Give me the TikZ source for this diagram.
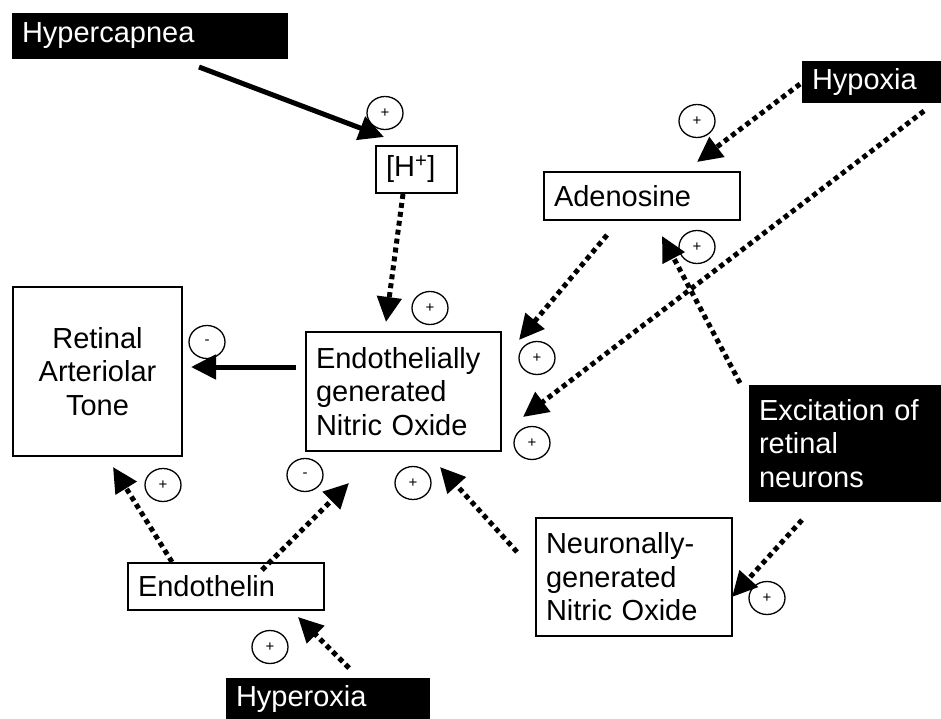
\documentclass[tikz,border=0pt]{standalone}
\usepackage{fontspec}
\setmainfont{Liberation Sans}
\usetikzlibrary{arrows.meta,shapes.geometric}
\begin{document}
\begin{tikzpicture}[x=1pt,y=-1pt,
  txt/.style={font=\fontsize{29}{33.5}\selectfont},
  wbox/.style={txt, draw=black, line width=1.3pt, rectangle, inner xsep=10pt, inner ysep=0pt, align=left},
  bbox/.style={txt, fill=black, text=white, rectangle, inner xsep=10pt, inner ysep=0pt, align=left},
  sign/.style={draw=black, ellipse, line width=1.3pt, minimum width=36pt, minimum height=33pt, inner sep=0pt, font=\fontsize{15}{15}\selectfont},
  solidarr/.style={line width=5pt, -{Triangle[length=25pt,width=24pt]}},
  dotarr/.style={line width=5pt, dash pattern=on 5pt off 4pt, -{Triangle[length=25pt,width=24pt]}},
]
\useasboundingbox (0,0) rectangle (941,719);

% boxes
\node[bbox, text width=256pt, minimum width=276pt, minimum height=46pt] (hyc) at (150,36) {Hypercapnea};
\node[wbox, text width=61pt, minimum width=81pt, minimum height=47pt] (hplus) at (416.5,169.5) {[H\textsuperscript{+}]};
\node[bbox, text width=119pt, minimum width=139pt, minimum height=42pt] (hypox) at (871.5,82) {Hypoxia};
\node[wbox, text width=176pt, minimum width=196pt, minimum height=48pt] (aden) at (642,196) {Adenosine};
\node[wbox, align=center, text width=149pt, minimum width=169pt, minimum height=169pt] (rat) at (97.5,371.5) {Retinal\\Arteriolar\\Tone};
\node[wbox, text width=175pt, minimum width=195pt, minimum height=119pt] (eno) at (403.5,391.5) {Endothelially\\generated\\Nitric Oxide};
\node[bbox, text width=172pt, minimum width=192pt, minimum height=117pt] (exc) at (845,443.5) {Excitation of\\retinal\\neurons};
\node[wbox, text width=176pt, minimum width=196pt, minimum height=118pt] (nno) at (634,577) {Neuronally-\\generated\\Nitric Oxide};
\node[wbox, text width=176pt, minimum width=196pt, minimum height=47pt] (eth) at (226,586.5) {Endothelin};
\node[bbox, text width=184pt, minimum width=204pt, minimum height=41pt] (hyo) at (328,698.5) {Hyperoxia};

% connector end points
\coordinate (a1s) at (199,67);   \coordinate (a1e) at (384,137);
\coordinate (a2s) at (403,194);  \coordinate (a2e) at (386,322);
\coordinate (a3s) at (800,84);   \coordinate (a3e) at (697,162);
\coordinate (a4s) at (924,111);  \coordinate (a4e) at (523,417);
\coordinate (a5s) at (607,235);  \coordinate (a5e) at (519,340);
\coordinate (a6s) at (740,383);  \coordinate (a6e) at (662,236);
\coordinate (a7s) at (802,520);  \coordinate (a7e) at (732,597);
\coordinate (a8s) at (517,552);  \coordinate (a8e) at (440,467);
\coordinate (a9s) at (296,367);  \coordinate (a9e) at (191,367);
\coordinate (a10s) at (172,562); \coordinate (a10e) at (113,467);
\coordinate (a11s) at (262,570); \coordinate (a11e) at (349,483);
\coordinate (a12s) at (349,668); \coordinate (a12e) at (298,617);

% connectors
\draw[solidarr] (a1s) -- (a1e);
\draw[dotarr] (a2s) -- (a2e);
\draw[dotarr] (a3s) -- (a3e);
\draw[dotarr] (a4s) -- (a4e);
\draw[dotarr] (a5s) -- (a5e);
\draw[dotarr] (a6s) -- (a6e);
\draw[dotarr] (a7s) -- (a7e);
\draw[dotarr] (a8s) -- (a8e);
\draw[solidarr] (a9s) -- (a9e);
\draw[dotarr] (a10s) -- (a10e);
\draw[dotarr] (a11s) -- (a11e);
\draw[dotarr] (a12s) -- (a12e);

% signs
\node[sign] (s1) at (385,113) {+};
\node[sign] (s2) at (430,308) {+};
\node[sign] (s3) at (697,121) {+};
\node[sign] (s4) at (537,358) {+};
\node[sign] (s5) at (532,443) {+};
\node[sign] (s6) at (697,247) {+};
\node[sign] (s7) at (767,598) {+};
\node[sign] (s8) at (413,483) {+};
\node[sign] (s9) at (207,342) {-};
\node[sign] (s10) at (163,485) {+};
\node[sign] (s11) at (305,475) {-};
\node[sign] (s12) at (270,647) {+};
\end{tikzpicture}
\end{document}
